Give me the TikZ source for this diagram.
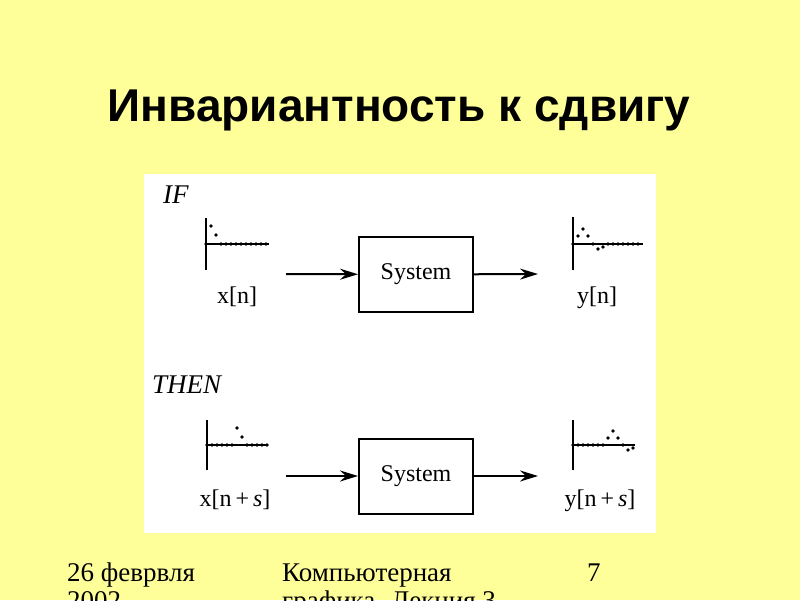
\documentclass[tikz,border=0pt]{standalone}
\usepackage{fontspec}
\setmainfont{Liberation Serif}
\newfontfamily\titlefont{Liberation Sans}
\newfontfamily\footfont{Liberation Serif}
\usetikzlibrary{arrows.meta}
\definecolor{slidebg}{RGB}{255,255,153}

\begin{document}
\begin{tikzpicture}[
  x=1pt, y=-1pt,
  font=\fontsize{24}{28}\selectfont,
  sysbox/.style={draw, line width=2pt, minimum width=114pt, minimum height=75pt, inner sep=0pt},
  sig/.style={anchor=base, inner sep=0pt},
  cond/.style={anchor=base west, inner sep=0pt, font=\fontsize{27}{30}\selectfont\itshape},
  arr/.style={-{Stealth[length=18pt, width=11pt, inset=6pt]}, line width=2pt},
  axis/.style={line width=1.2pt},
  dot/.style={fill=black, draw=none},
  foot/.style={anchor=base west, inner sep=0pt, align=left, font=\footfont\fontsize{27}{28}\selectfont}
]
\useasboundingbox[fill=slidebg] (0,0) rectangle (800,600);
\node[anchor=base, inner sep=0pt, font=\titlefont\bfseries\fontsize{46}{50}\selectfont] (title) at (399,121) {Инвариантность к сдвигу};
% figure panel
\fill[white] (144,174) rectangle (656,533);
\node[cond] (if) at (163,203) {IF};
\node[cond] (then) at (152,393) {THEN};
% systems and connectors
\node[sysbox] (sys1) at (416,274.5) {System};
\node[sysbox] (sys2) at (416,476) {System};
\coordinate (in1) at (286,274);
\coordinate (out1) at (538,274);
\coordinate (in2) at (286,476);
\coordinate (out2) at (538,476);
\draw[arr] (in1) -- (sys1);
\draw[arr] (sys1) -- (out1);
\draw[arr] (in2) -- (sys2);
\draw[arr] (sys2) -- (out2);
\node[sig] (xn) at (237,303) {x[n]};
\node[sig] (yn) at (597,303) {y[n]};
\node[sig] (xns) at (235,506) {x[n\,+\,\textit{s}]};
\node[sig] (yns) at (600,506) {y[n\,+\,\textit{s}]};
% stem plots
\begin{scope}[shift={(206,244)}]
  \draw[axis] (0,-26) -- (0,26);
  \draw[axis] (0,0) -- (63,0);
  \foreach \p in {(0,0),(5,-18),(10,-9)} \fill[dot] \p circle (1.8);
  \foreach \i in {3,...,12} \fill[dot] (\i*5,0) circle (1.8);
\end{scope}
\begin{scope}[shift={(573,244)}]
  \draw[axis] (0,-27) -- (0,26);
  \draw[axis] (0,0) -- (70,0);
  \foreach \p in {(0,0),(5,-8),(10,-15),(15,-8),(20,0),(25,5),(30,3)} \fill[dot] \p circle (1.8);
  \foreach \i in {7,...,13} \fill[dot] (\i*5,0) circle (1.8);
\end{scope}
\begin{scope}[shift={(207,445)}]
  \draw[axis] (0,-25) -- (0,25);
  \draw[axis] (0,0) -- (61,0);
  \foreach \p in {(30,-17),(35,-8)} \fill[dot] \p circle (1.8);
  \foreach \i in {0,...,5,8,9,...,12} \fill[dot] (\i*5,0) circle (1.8);
\end{scope}
\begin{scope}[shift={(573,445)}]
  \draw[axis] (0,-25) -- (0,25);
  \draw[axis] (0,0) -- (62,0);
  \foreach \p in {(35,-7),(40,-14),(45,-7),(50,0),(55,5),(60,3)} \fill[dot] \p circle (1.8);
  \foreach \i in {0,...,6} \fill[dot] (\i*5,0) circle (1.8);
\end{scope}
% footer
\node[foot] (date) at (67,609) {26 феврвля\\2002};
\node[foot] (course) at (282,609) {Компьютерная\\графика. Лекция 3};
\node[foot] (page) at (587,581) {7};
\end{tikzpicture}
\end{document}
